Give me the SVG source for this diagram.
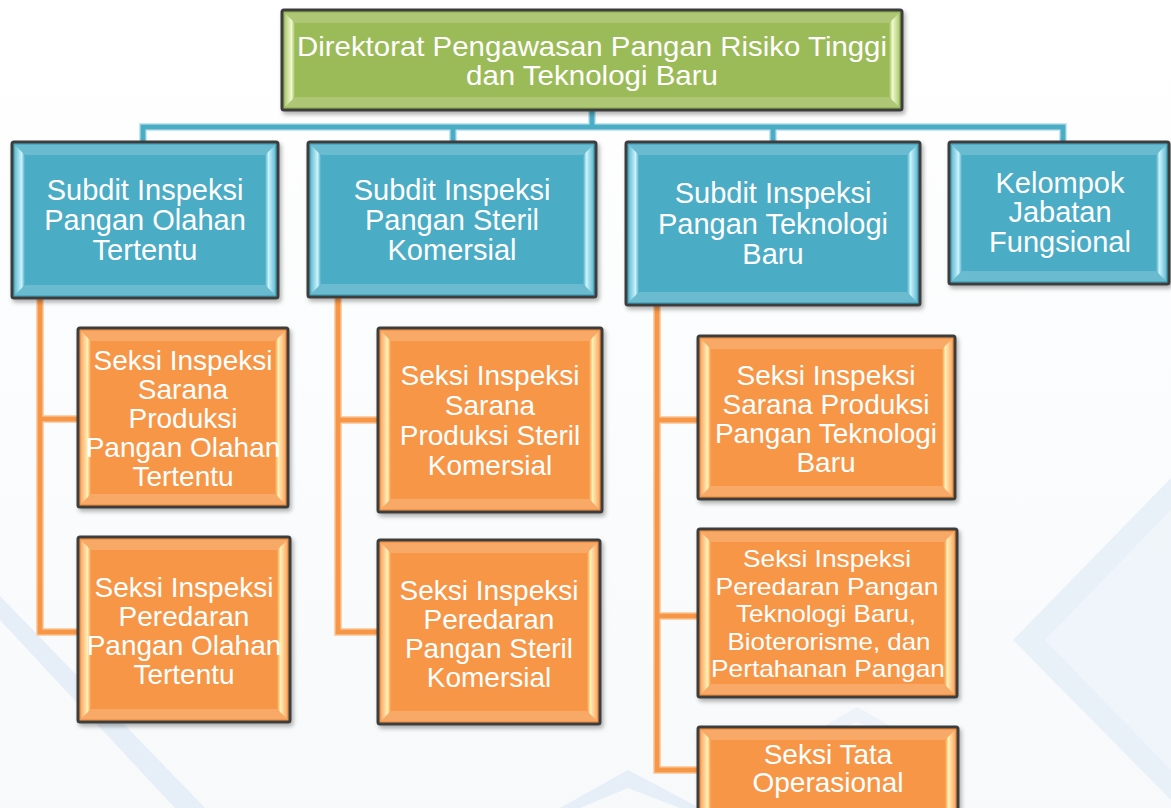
<svg xmlns="http://www.w3.org/2000/svg" width="1171" height="808" viewBox="0 0 1171 808">
<defs>
<linearGradient id="bg" x1="0" y1="0" x2="0" y2="1"><stop offset="0" stop-color="#ffffff"/><stop offset="1" stop-color="#f7f9fb"/></linearGradient>
<linearGradient id="bl" x1="0" y1="0" x2="1" y2="0"><stop offset="0" stop-color="#6cbfd5"/><stop offset="0.65" stop-color="#c9f3fb"/><stop offset="1" stop-color="#4bacc6"/></linearGradient>
<linearGradient id="br" x1="1" y1="0" x2="0" y2="0"><stop offset="0" stop-color="#6cbfd5"/><stop offset="0.65" stop-color="#c9f3fb"/><stop offset="1" stop-color="#4bacc6"/></linearGradient>
<linearGradient id="ol" x1="0" y1="0" x2="1" y2="0"><stop offset="0" stop-color="#f9ad6e"/><stop offset="0.65" stop-color="#fff0b4"/><stop offset="1" stop-color="#f79646"/></linearGradient>
<linearGradient id="or" x1="1" y1="0" x2="0" y2="0"><stop offset="0" stop-color="#f9ad6e"/><stop offset="0.65" stop-color="#fff0b4"/><stop offset="1" stop-color="#f79646"/></linearGradient>
<linearGradient id="gl" x1="0" y1="0" x2="1" y2="0"><stop offset="0" stop-color="#b2cd7c"/><stop offset="0.65" stop-color="#f0f9cc"/><stop offset="1" stop-color="#9bbb59"/></linearGradient>
<linearGradient id="gr" x1="1" y1="0" x2="0" y2="0"><stop offset="0" stop-color="#b2cd7c"/><stop offset="0.65" stop-color="#f0f9cc"/><stop offset="1" stop-color="#9bbb59"/></linearGradient>
<filter id="sh" x="-10%" y="-10%" width="120%" height="130%"><feDropShadow dx="2" dy="3" stdDeviation="2" flood-color="#000" flood-opacity="0.3"/></filter>
</defs>
<style>
.box{stroke:#3c3c3c;stroke-width:3;filter:url(#sh)}
.g{fill:#9bbb59}.b{fill:#4bacc6}.o{fill:#f79646}
.tb{fill:#ffffff;opacity:0.18}
.t{font-family:"Liberation Sans",Arial,sans-serif;fill:#ffffff;text-anchor:middle}
.t28{font-size:28px}.t29{font-size:29px}.t24{font-size:24px}
.cb{fill:none;stroke:#4bacc6;stroke-width:5}
.cbl{fill:none;stroke:#c5e6f0;stroke-width:8}
.co{fill:none;stroke:#f79646;stroke-width:5}
.col{fill:none;stroke:#fbd2b0;stroke-width:8}
.deco{fill:#e6eff7}
</style>
<rect width="1171" height="808" fill="url(#bg)"/>
<g id="background">
<polygon class="deco" points="0,596 0,620 175,808 205,808"/>
<polygon class="deco" points="1171,478 1013,640 1171,800 1171,770 1045,640 1171,510" opacity="0.9"/>
<polygon class="deco" points="1045,640 1171,510 1171,770" opacity="0.5"/>
<polygon class="deco" points="560,808 628,770 700,808 680,808 628,788 580,808"/>
<polygon class="deco" points="800,740 857,707 915,740 900,740 857,722 815,740" opacity="0.6"/>
</g>
<g id="connectors">
<path class="cbl" d="M592,110 V127 M143,142 V127 H1063 V142 M453,127 V142 M773,127 V142"/>
<path class="cb" d="M592,110 V127 M143,142 V127 H1063 V142 M453,127 V142 M773,127 V142"/>
<path class="col" d="M40,298 V632 H78 M40,419 H78 M338,297 V632 H378 M338,420 H378 M657,305 V770 H698 M657,420 H698 M657,616 H698"/>
<path class="co" d="M40,298 V632 H78 M40,419 H78 M338,297 V632 H378 M338,420 H378 M657,305 V770 H698 M657,420 H698 M657,616 H698"/>
</g>
<g id="node-direktorat">
<rect class="box g" x="282" y="10" width="620" height="100" rx="2"/>
<polygon class="tb" points="285,13 899,13 889,23 295,23"/>
<polygon class="tb" points="285,107 899,107 889,97 295,97"/>
<polygon fill="url(#gl)" points="285,13 295,23 295,97 285,107"/>
<polygon fill="url(#gr)" points="899,13 889,23 889,97 899,107"/>
<text class="t t28" x="592" y="56" textLength="590" lengthAdjust="spacingAndGlyphs">Direktorat Pengawasan Pangan Risiko Tinggi</text>
<text class="t t28" x="592" y="85" textLength="252" lengthAdjust="spacingAndGlyphs">dan Teknologi Baru</text>
</g>
<g id="node-subdit-olahan">
<rect class="box b" x="12" y="142" width="266" height="156" rx="2"/>
<polygon class="tb" points="15,145 275,145 265,155 25,155"/>
<polygon class="tb" points="15,295 275,295 265,285 25,285"/>
<polygon fill="url(#bl)" points="15,145 25,155 25,285 15,295"/>
<polygon fill="url(#br)" points="275,145 265,155 265,285 275,295"/>
<text class="t t29" x="145" y="200">Subdit Inspeksi</text>
<text class="t t29" x="145" y="230">Pangan Olahan</text>
<text class="t t29" x="145" y="260">Tertentu</text>
</g>
<g id="node-subdit-steril">
<rect class="box b" x="308" y="142" width="288" height="155" rx="2"/>
<polygon class="tb" points="311,145 593,145 583,155 321,155"/>
<polygon class="tb" points="311,294 593,294 583,284 321,284"/>
<polygon fill="url(#bl)" points="311,145 321,155 321,284 311,294"/>
<polygon fill="url(#br)" points="593,145 583,155 583,284 593,294"/>
<text class="t t29" x="452" y="200">Subdit Inspeksi</text>
<text class="t t29" x="452" y="230">Pangan Steril</text>
<text class="t t29" x="452" y="260">Komersial</text>
</g>
<g id="node-subdit-teknologi">
<rect class="box b" x="626" y="142" width="294" height="163" rx="2"/>
<polygon class="tb" points="629,145 917,145 907,155 639,155"/>
<polygon class="tb" points="629,302 917,302 907,292 639,292"/>
<polygon fill="url(#bl)" points="629,145 639,155 639,292 629,302"/>
<polygon fill="url(#br)" points="917,145 907,155 907,292 917,302"/>
<text class="t t29" x="773" y="203">Subdit Inspeksi</text>
<text class="t t29" x="773" y="234">Pangan Teknologi</text>
<text class="t t29" x="773" y="264">Baru</text>
</g>
<g id="node-kelompok">
<rect class="box b" x="949" y="142" width="220" height="142" rx="2"/>
<polygon class="tb" points="952,145 1166,145 1156,155 962,155"/>
<polygon class="tb" points="952,281 1166,281 1156,271 962,271"/>
<polygon fill="url(#bl)" points="952,145 962,155 962,271 952,281"/>
<polygon fill="url(#br)" points="1166,145 1156,155 1156,271 1166,281"/>
<text class="t t29" x="1060" y="193">Kelompok</text>
<text class="t t29" x="1060" y="222">Jabatan</text>
<text class="t t29" x="1060" y="252">Fungsional</text>
</g>
<g id="node-seksi-sarana-olahan">
<rect class="box o" x="78" y="328" width="210" height="179" rx="2"/>
<polygon class="tb" points="81,331 285,331 275,341 91,341"/>
<polygon class="tb" points="81,504 285,504 275,494 91,494"/>
<polygon fill="url(#ol)" points="81,331 91,341 91,494 81,504"/>
<polygon fill="url(#or)" points="285,331 275,341 275,494 285,504"/>
<text class="t t28" x="183" y="370">Seksi Inspeksi</text>
<text class="t t28" x="183" y="399">Sarana</text>
<text class="t t28" x="183" y="428">Produksi</text>
<text class="t t28" x="183" y="457">Pangan Olahan</text>
<text class="t t28" x="183" y="486">Tertentu</text>
</g>
<g id="node-seksi-peredaran-olahan">
<rect class="box o" x="78" y="537" width="212" height="185" rx="2"/>
<polygon class="tb" points="81,540 287,540 277,550 91,550"/>
<polygon class="tb" points="81,719 287,719 277,709 91,709"/>
<polygon fill="url(#ol)" points="81,540 91,550 91,709 81,719"/>
<polygon fill="url(#or)" points="287,540 277,550 277,709 287,719"/>
<text class="t t28" x="184" y="597">Seksi Inspeksi</text>
<text class="t t28" x="184" y="626">Peredaran</text>
<text class="t t28" x="184" y="655">Pangan Olahan</text>
<text class="t t28" x="184" y="684">Tertentu</text>
</g>
<g id="node-seksi-sarana-steril">
<rect class="box o" x="378" y="328" width="224" height="184" rx="2"/>
<polygon class="tb" points="381,331 599,331 589,341 391,341"/>
<polygon class="tb" points="381,509 599,509 589,499 391,499"/>
<polygon fill="url(#ol)" points="381,331 391,341 391,499 381,509"/>
<polygon fill="url(#or)" points="599,331 589,341 589,499 599,509"/>
<text class="t t28" x="490" y="385">Seksi Inspeksi</text>
<text class="t t28" x="490" y="415">Sarana</text>
<text class="t t28" x="490" y="445">Produksi Steril</text>
<text class="t t28" x="490" y="475">Komersial</text>
</g>
<g id="node-seksi-peredaran-steril">
<rect class="box o" x="378" y="540" width="222" height="184" rx="2"/>
<polygon class="tb" points="381,543 597,543 587,553 391,553"/>
<polygon class="tb" points="381,721 597,721 587,711 391,711"/>
<polygon fill="url(#ol)" points="381,543 391,553 391,711 381,721"/>
<polygon fill="url(#or)" points="597,543 587,553 587,711 597,721"/>
<text class="t t28" x="489" y="600">Seksi Inspeksi</text>
<text class="t t28" x="489" y="629">Peredaran</text>
<text class="t t28" x="489" y="658">Pangan Steril</text>
<text class="t t28" x="489" y="687">Komersial</text>
</g>
<g id="node-seksi-sarana-teknologi">
<rect class="box o" x="698" y="336" width="257" height="163" rx="2"/>
<polygon class="tb" points="701,339 952,339 942,349 711,349"/>
<polygon class="tb" points="701,496 952,496 942,486 711,486"/>
<polygon fill="url(#ol)" points="701,339 711,349 711,486 701,496"/>
<polygon fill="url(#or)" points="952,339 942,349 942,486 952,496"/>
<text class="t t28" x="826" y="385">Seksi Inspeksi</text>
<text class="t t28" x="826" y="414">Sarana Produksi</text>
<text class="t t28" x="826" y="443">Pangan Teknologi</text>
<text class="t t28" x="826" y="472">Baru</text>
</g>
<g id="node-seksi-peredaran-teknologi">
<rect class="box o" x="698" y="529" width="259" height="168" rx="2"/>
<polygon class="tb" points="701,532 954,532 944,542 711,542"/>
<polygon class="tb" points="701,694 954,694 944,684 711,684"/>
<polygon fill="url(#ol)" points="701,532 711,542 711,684 701,694"/>
<polygon fill="url(#or)" points="954,532 944,542 944,684 954,694"/>
<text class="t t24" x="827" y="567" textLength="168" lengthAdjust="spacingAndGlyphs">Seksi Inspeksi</text>
<text class="t t24" x="827" y="594.5" textLength="223" lengthAdjust="spacingAndGlyphs">Peredaran Pangan</text>
<text class="t t24" x="826" y="622" textLength="180" lengthAdjust="spacingAndGlyphs">Teknologi Baru,</text>
<text class="t t24" x="829" y="649.5" textLength="203" lengthAdjust="spacingAndGlyphs">Bioterorisme, dan</text>
<text class="t t24" x="828" y="677" textLength="234" lengthAdjust="spacingAndGlyphs">Pertahanan Pangan</text>
</g>
<g id="node-seksi-tata">
<rect class="box o" x="698" y="727" width="260" height="100" rx="2"/>
<polygon class="tb" points="701,730 955,730 945,740 711,740"/>
<polygon fill="url(#ol)" points="701,730 711,740 711,814 701,824"/>
<polygon fill="url(#or)" points="955,730 945,740 945,814 955,824"/>
<text class="t t28" x="828" y="764">Seksi Tata</text>
<text class="t t28" x="828" y="792">Operasional</text>
</g>
</svg>
